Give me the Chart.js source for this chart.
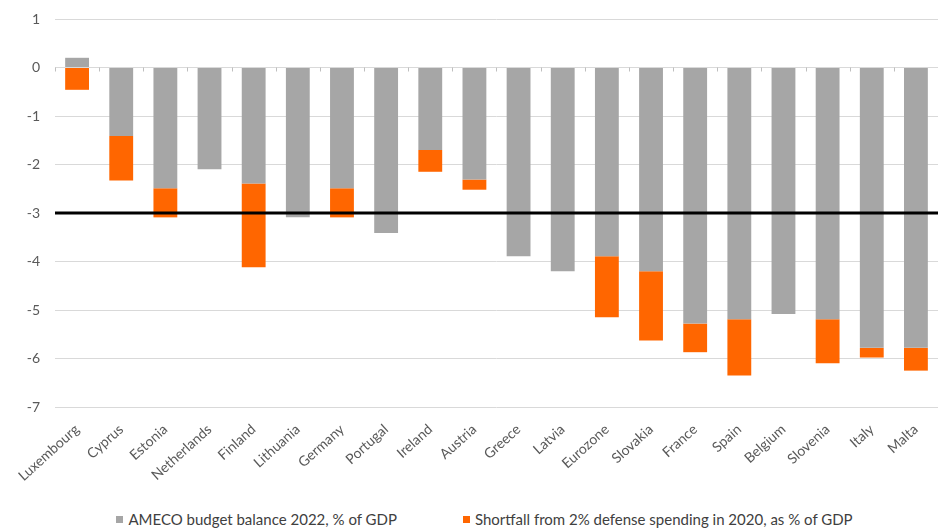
<!DOCTYPE html>
<html>
<head>
<meta charset="utf-8">
<script src="https://cdn.jsdelivr.net/npm/chart.js@4.4.1/dist/chart.umd.min.js"></script>
<style>
  html, body { margin: 0; padding: 0; background: #fff; }
  #wrap { position: relative; width: 938px; height: 530px; }
  #chart-box { position: absolute; left: 0; top: 0; width: 938px; height: 500px; }
  #legend { position: absolute; left: 0; top: 509px; width: 938px; box-sizing: border-box; padding-left: 31px;
            display: flex; justify-content: center; align-items: center;
            font-family: Lato, sans-serif; font-size: 15px; color: #404040; line-height: 20px; }
  #legend .item { display: flex; align-items: center; }
  #legend .item + .item { margin-left: 66px; }
  #legend .box { width: 7px; height: 7px; margin-right: 5px; }
</style>
</head>
<body>
<div id="wrap">
  <div id="chart-box"><canvas id="budget-chart"></canvas></div>
  <div id="legend"></div>
</div>
<script>
var countries = ["Luxembourg","Cyprus","Estonia","Netherlands","Finland","Lithuania","Germany","Portugal","Ireland","Austria","Greece","Latvia","Eurozone","Slovakia","France","Spain","Belgium","Slovenia","Italy","Malta"];
var budget_balance = [0.2,-1.41,-2.49,-2.1,-2.39,-3.09,-2.49,-3.41,-1.7,-2.31,-3.89,-4.2,-3.89,-4.2,-5.28,-5.19,-5.08,-5.19,-5.78,-5.78];
var defense_shortfall = [-0.46,-0.92,-0.6,0,-1.73,0,-0.6,0,-0.45,-0.21,0,0,-1.26,-1.43,-0.59,-1.16,0,-0.91,-0.2,-0.47];
var threshold = -3;

// thick black line at the -3% limit, plus the little category ticks on the zero line
var limitLine = {
  id: 'limitLine',
  beforeDatasetsDraw: function(chart) {
    var ctx = chart.ctx;
    var xs = chart.scales.x;
    var y0 = chart.scales.y.getPixelForValue(0);
    var half = (xs.getPixelForTick(1) - xs.getPixelForTick(0)) / 2;
    ctx.save();
    ctx.strokeStyle = '#bfbfbf';
    ctx.lineWidth = 1;
    ctx.beginPath();
    for (var i = 0; i <= countries.length; i++) {
      var x = Math.round(xs.getPixelForTick(0) - half + i * half * 2) + 0.5;
      ctx.moveTo(x, y0);
      ctx.lineTo(x, y0 + 4);
    }
    ctx.stroke();
    ctx.restore();
  },
  afterDatasetsDraw: function(chart) {
    var ctx = chart.ctx;
    var area = chart.chartArea;
    var y = chart.scales.y.getPixelForValue(threshold);
    ctx.save();
    ctx.strokeStyle = '#000';
    ctx.lineWidth = 3;
    ctx.beginPath();
    ctx.moveTo(area.left, y);
    ctx.lineTo(area.right, y);
    ctx.stroke();
    ctx.restore();
  }
};

var ctx = document.getElementById("budget-chart").getContext('2d');
var myChart = new Chart(ctx, {
  type: 'bar',
  data: {
    labels: countries,
    datasets: [{
        data: budget_balance,
        label: "AMECO budget balance 2022, % of GDP",
        backgroundColor: "#a6a6a6"
      }, {
        data: defense_shortfall,
        label: "Shortfall from 2% defense spending in 2020, as % of GDP",
        backgroundColor: "#ff6600"
      }
    ]
  },
  plugins: [limitLine],
  options: {
    responsive: true,
    maintainAspectRatio: false,
    animation: false,
    layout: { padding: { top: 19, right: 0, left: 0, bottom: 0 } },
    datasets: { bar: { barPercentage: 0.54, categoryPercentage: 1 } },
    scales: {
      x: {
        stacked: true,
        grid: { display: false },
        border: { display: false },
        afterFit: function(scale) { scale.height = 93; },
        ticks: {
          minRotation: 42, maxRotation: 42,
          padding: 6,
          color: '#595959',
          font: { family: 'Lato', size: 14 }
        }
      },
      y: {
        stacked: true,
        min: -7, max: 1,
        grid: { color: '#d9d9d9', drawTicks: false },
        border: { display: false },
        afterFit: function(scale) {
          scale.width = 55;
          scale.paddingTop = 0;
          scale.paddingBottom = 0;
        },
        ticks: {
          stepSize: 1,
          padding: 15,
          color: '#595959',
          font: { family: 'Lato', size: 14 }
        }
      }
    },
    plugins: {
      tooltip: { enabled: false },
      legend: { display: false }
    }
  }
});

// html legend built from the chart's own datasets
var legendEl = document.getElementById("legend");
myChart.data.datasets.forEach(function(ds) {
  var item = document.createElement("span");
  item.className = "item";
  var box = document.createElement("span");
  box.className = "box";
  box.style.background = ds.backgroundColor;
  item.appendChild(box);
  item.appendChild(document.createTextNode(ds.label));
  legendEl.appendChild(item);
});
</script>
</body>
</html>
